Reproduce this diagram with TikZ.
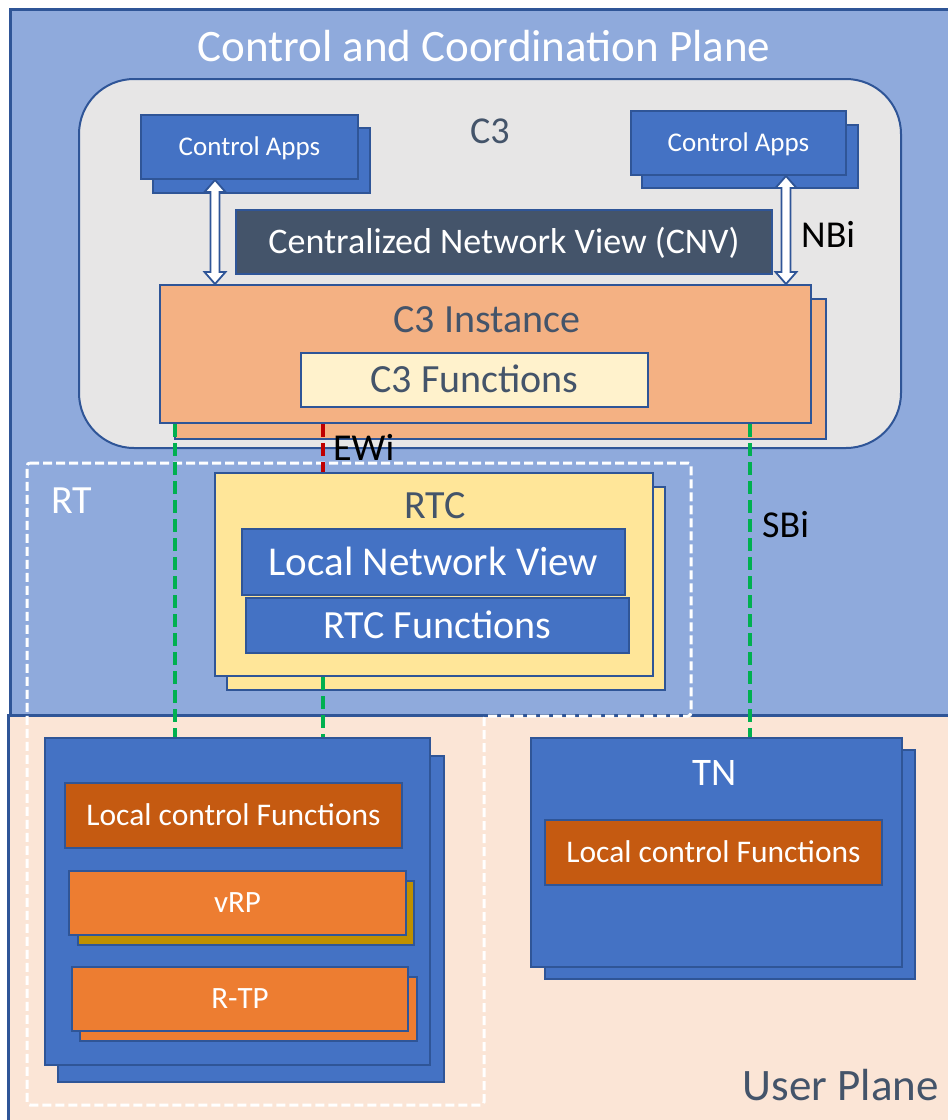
\documentclass[tikz,border=0pt]{standalone}
\usepackage{fontspec}
\setmainfont{Carlito}
\usetikzlibrary{calc}
\definecolor{planeblue}{HTML}{8FAADC}
\definecolor{edge}{HTML}{2F5597}
\definecolor{c3gray}{HTML}{E7E6E6}
\definecolor{boxblue}{HTML}{4472C4}
\definecolor{slate}{HTML}{44546A}
\definecolor{salmon}{HTML}{F4B183}
\definecolor{cream}{HTML}{FFF2CC}
\definecolor{sand}{HTML}{FFE699}
\definecolor{peach}{HTML}{FBE5D6}
\definecolor{rust}{HTML}{C55A11}
\definecolor{tangerine}{HTML}{ED7D31}
\definecolor{gold}{HTML}{BF9000}
\definecolor{ifgreen}{HTML}{00B050}
\definecolor{ifred}{HTML}{C00000}
\tikzset{
  fs/.style={font=\fontsize{#1}{#1}\selectfont, text height=0.644*#1pt, text depth=0pt},
  bx/.style={draw=edge, line width=2pt, inner sep=0pt, text=white},
  lbl/.style={inner sep=0pt, font=\fontsize{#1}{#1}\selectfont},
  sbi/.style={ifgreen, line width=4.5pt, dash pattern=on 13pt off 6pt},
  ewi/.style={ifred, line width=4.5pt, dash pattern=on 13pt off 6pt},
  rtzone/.style={white, line width=3pt, dash pattern=on 9pt off 4pt, rounded corners=3pt},
  dbl/.style={draw=edge, fill=white, line width=1.8pt, line join=miter},
}
% vertical double-headed block arrow between two named points
\newcommand\blockarrow[2]{%
  \path let \p1=(#1), \p2=(#2) in
    [dbl] (\x1,\y1) -- (\x1+10.5pt,\y1-12pt) -- (\x1+4.5pt,\y1-12pt)
      -- (\x1+4.5pt,\y2+12pt) -- (\x1+10.5pt,\y2+12pt) -- (\x1,\y2)
      -- (\x1-10.5pt,\y2+12pt) -- (\x1-4.5pt,\y2+12pt)
      -- (\x1-4.5pt,\y1-12pt) -- (\x1-10.5pt,\y1-12pt) -- cycle;}
\begin{document}
\begin{tikzpicture}[x=1pt,y=-1pt]
\useasboundingbox (0,0) rectangle (948,1120);
\fill[white] (0,0) rectangle (948,1120);

% the two planes
\draw[draw=edge, fill=planeblue, line width=3pt] (10,9) rectangle (970,715);
\draw[draw=edge, fill=peach, line width=3pt] (8,715) rectangle (970,1135);
\node[lbl=45, text=white, anchor=base] (cptitle) at (484,61) {Control and Coordination Plane};
\node[lbl=45, text=slate, anchor=base east] (uptitle) at (939,1100) {User Plane};

% C3 region
\draw[draw=edge, fill=c3gray, line width=2pt, rounded corners=55pt] (79,79) rectangle (901,448);
\node[lbl=38, text=slate, anchor=base] (c3lbl) at (490,143) {C3};

% control apps
\node[bx, fill=boxblue, minimum width=217, minimum height=65] (ca1b) at (261.5,160.5) {};
\node[bx, fill=boxblue, minimum width=217, minimum height=64, fs=27] (ca1) at (249.5,147) {Control Apps};
\node[bx, fill=boxblue, minimum width=216, minimum height=63] (ca2b) at (750,156.5) {};
\node[bx, fill=boxblue, minimum width=215, minimum height=64, fs=27] (ca2) at (738.5,143) {Control Apps};

% centralized network view
\node[bx, fill=slate, minimum width=536, minimum height=64, fs=36] (cnv) at (504,242) {Centralized Network View (CNV)};

% C3 instance
\node[bx, fill=salmon, minimum width=651, minimum height=140] (instb) at (500.5,369) {};
\node[bx, fill=salmon, minimum width=651, minimum height=138] (inst) at (485.5,354) {};
\node[lbl=40, text=slate, anchor=base] (instlbl) at (487,332) {C3 Instance};
\node[bx, fill=cream, text=slate, minimum width=347, minimum height=54, fs=40] (c3fn) at (474.5,380) {C3 Functions};

% northbound interface arrows
\coordinate (nbL) at (215,0);
\coordinate (nbR) at (786,0);
\blockarrow{ca1.south -| nbL}{inst.north -| nbL}
\blockarrow{ca2.south -| nbR}{inst.north -| nbR}
\node[lbl=38, anchor=base west] (nbi) at (801,247) {NBi};

% RT zone
\draw[rtzone] (27,463) -- (691,463) -- (691,716) -- (484,716) -- (484,1105) -- (27,1105) -- cycle;
\node[lbl=40, text=white, anchor=base west] (rtlbl) at (51,513) {RT};

% RTC
\node[bx, fill=sand, minimum width=438, minimum height=203] (rtcb) at (446,588.5) {};
\node[bx, fill=sand, minimum width=438, minimum height=203] (rtc) at (434,574.5) {};
\node[lbl=40, text=slate, anchor=base] (rtclbl) at (435,518) {RTC};
\node[bx, fill=boxblue, minimum width=383, minimum height=66, fs=41] (lnv) at (433.5,562) {Local Network View};
\node[bx, fill=boxblue, minimum width=383, minimum height=55, fs=40] (rtcf) at (437.5,625.5) {RTC Functions};

% radio point node
\node[bx, fill=boxblue, minimum width=386, minimum height=326] (rpb) at (251,919) {};
\node[bx, fill=boxblue, minimum width=385, minimum height=327] (rp) at (237.5,901.5) {};
\node[bx, fill=rust, minimum width=337, minimum height=65, fs=31.5] (lcf1) at (233.5,815.5) {Local control Functions};
\node[bx, fill=gold, minimum width=336, minimum height=64] (vrpb) at (246,913) {};
\node[bx, fill=tangerine, minimum width=337, minimum height=64, fs=31] (vrp) at (237.5,903) {vRP};
\node[bx, fill=tangerine, minimum width=337, minimum height=64] (rtpb) at (248.5,1009) {};
\node[bx, fill=tangerine, minimum width=336, minimum height=64, fs=31] (rtp) at (240,999) {R-TP};

% transport node
\node[bx, fill=boxblue, minimum width=370, minimum height=229] (tnb) at (730,864.5) {};
\node[bx, fill=boxblue, minimum width=371, minimum height=229] (tn) at (716.5,852.5) {};
\node[lbl=39, text=white, anchor=base] (tnlbl) at (715,785) {TN};
\node[bx, fill=rust, minimum width=337, minimum height=65, fs=31.5] (lcf2) at (713.5,852.5) {Local control Functions};

% interfaces
\coordinate (g1) at (175,0);
\coordinate (g2) at (750,0);
\coordinate (g3) at (323,0);
\draw[sbi] (inst.south -| g1) -- (rp.north -| g1);
\draw[sbi] (inst.south -| g2) -- (tn.north -| g2);
\draw[sbi] (rtc.south -| g3) -- (rp.north -| g3);
\draw[ewi] (inst.south -| g3) -- (rtc.north -| g3);
\node[lbl=38, anchor=base west] (ewi) at (333,460) {EWi};
\node[lbl=38, anchor=base west] (sbi) at (762,537) {SBi};
\end{tikzpicture}
\end{document}
